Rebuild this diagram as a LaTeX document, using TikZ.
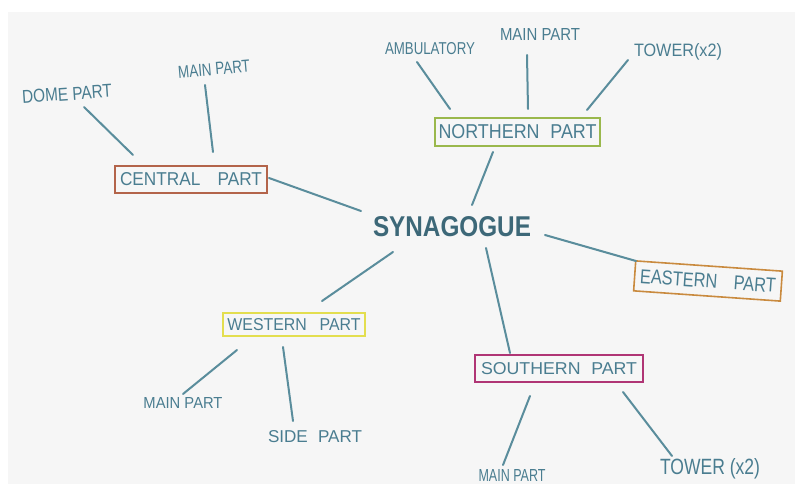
\documentclass[tikz,border=0pt]{standalone}
\usepackage{fontspec}
\usepackage{graphicx}
\setmainfont{Liberation Sans}
\usetikzlibrary{calc}
\definecolor{paper}{HTML}{F6F6F6}
\definecolor{ink}{HTML}{4A7D90}
\definecolor{inkdark}{HTML}{3D6878}
\definecolor{cline}{HTML}{5A8D9C}
\definecolor{cbrown}{HTML}{B3644A}
\definecolor{cgreen}{HTML}{9AB84C}
\definecolor{corange}{HTML}{C98A3E}
\definecolor{cyellow}{HTML}{E3DE4F}
\definecolor{cmagenta}{HTML}{B03575}
\newcommand\fitt[3]{\resizebox{#1pt}{#2pt}{#3}}
\tikzset{
  lbl/.style={text=ink, inner sep=0pt, font=\fontsize{14}{14}\selectfont},
  partbox/.style={draw=#1, line width=1.6pt, text=ink, inner sep=0pt, font=\fontsize{14}{14}\selectfont},
  conn/.style={draw=cline, line width=2pt, line cap=round},
}
\begin{document}
\begin{tikzpicture}[x=1pt,y=-1pt]
\useasboundingbox (0,0) rectangle (795,486);
\fill[white] (0,0) rectangle (795,486);
\fill[paper] (8,12) rectangle (795,484);

% centre
\node[text=inkdark, inner sep=0pt, font=\fontsize{24}{24}\selectfont\bfseries] (syn) at (452,227) {\fitt{158}{20}{SYNAGOGUE}};

% parts
\node[partbox=cbrown, minimum width=152pt, minimum height=27pt] (central) at (191,179.5) {\fitt{142}{13}{CENTRAL\hspace{1em}PART}};
\node[partbox=cgreen, minimum width=165pt, minimum height=28pt] (north) at (517.5,132) {\fitt{158}{14}{NORTHERN\hspace{0.6em}PART}};
\node[partbox=corange, minimum width=147pt, minimum height=30pt, rotate=-4] (east) at (708,281) {\fitt{136}{14}{EASTERN\hspace{1em}PART}};
\node[partbox=cyellow, minimum width=142pt, minimum height=23pt] (west) at (294,324.5) {\fitt{133}{12}{WESTERN\hspace{0.8em}PART}};
\node[partbox=cmagenta, minimum width=168pt, minimum height=27pt] (south) at (559,368.5) {\fitt{156}{12}{SOUTHERN\hspace{0.6em}PART}};

% leaves
\node[lbl, rotate=4] (dome) at (67,94) {\fitt{90}{13}{DOME PART}};
\node[lbl, rotate=5] (cmain) at (214,69) {\fitt{72}{12}{MAIN PART}};
\node[lbl] (amb) at (430,49) {\fitt{90}{12}{AMBULATORY}};
\node[lbl] (nmain) at (540,35) {\fitt{80}{12}{MAIN PART}};
\node[lbl] (ntower) at (678,52) {\fitt{88}{13}{TOWER(x2)}};
\node[lbl] (wmain) at (183,403) {\fitt{79}{11}{MAIN PART}};
\node[lbl] (wside) at (315,437) {\fitt{94}{12}{SIDE\hspace{0.6em}PART}};
\node[lbl] (smain) at (512,475) {\fitt{67}{12}{MAIN PART}};
\node[lbl] (stower) at (710,469) {\fitt{100}{16}{TOWER (x2)}};

% connectors
\draw[conn] ($(dome)+(17,13)$) -- ($(central)+(-58,-24.5)$);
\draw[conn] ($(cmain)+(-9,16)$) -- ($(central)+(22,-27.5)$);
\draw[conn] ($(central)+(78,-1.5)$) -- ($(syn)+(-91,-16)$);
\draw[conn] ($(amb)+(-13,13)$) -- ($(north)+(-67.5,-23)$);
\draw[conn] ($(nmain)+(-13,20)$) -- ($(north)+(10.5,-23)$);
\draw[conn] ($(ntower)+(-50,8)$) -- ($(north)+(69.5,-22)$);
\draw[conn] ($(north)+(-24.5,20)$) -- ($(syn)+(20,-22)$);
\draw[conn] ($(syn)+(93,8)$) -- ($(east)+(-72,-20)$);
\draw[conn] ($(syn)+(-59,25)$) -- ($(west)+(28,-23.5)$);
\draw[conn] ($(wmain)+(0,-9)$) -- ($(west)+(-57,25.5)$);
\draw[conn] ($(wside)+(-22,-16)$) -- ($(west)+(-11,22.5)$);
\draw[conn] ($(syn)+(34,21)$) -- ($(south)+(-49,-15.5)$);
\draw[conn] ($(south)+(-29,27.5)$) -- ($(smain)+(-9,-10)$);
\draw[conn] ($(south)+(64,23.5)$) -- ($(stower)+(-38,-13)$);
\end{tikzpicture}
\end{document}
